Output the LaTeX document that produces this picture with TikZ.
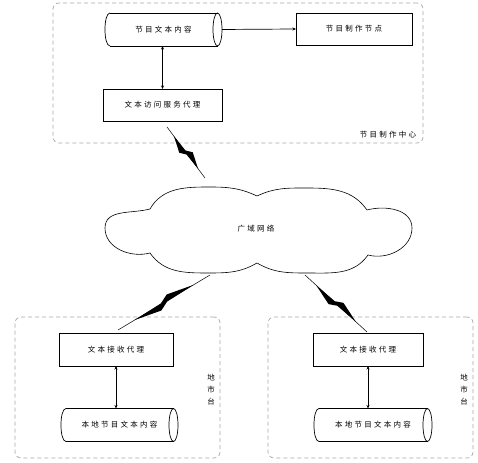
\documentclass[tikz,border=0pt]{standalone}
\usepackage{fontspec}
\newfontfamily\cjk{Noto Sans CJK SC}[LetterSpace=30]
\usetikzlibrary{calc,arrows.meta}
\newcommand{\cylout}[1]{%
  \draw[link] ($(#1.north west)+(5,0)$) -- ($(#1.north east)+(-4.5,0)$);
  \draw[link] ($(#1.south west)+(5,0)$) -- ($(#1.south east)+(-4.5,0)$);
  \draw[link] ($(#1.east)+(-4.5,0)$) ellipse [x radius=4.5pt, y radius=16.5pt];
  \draw[link] ($(#1.north west)+(5,0)$) .. controls ($(#1.north west)+(-1.7,0)$) and ($(#1.south west)+(-1.7,0)$) .. ($(#1.south west)+(5,0)$);}
\newcommand{\zap}[2]{%
  \draw[line width=0.5pt] (#1) -- (#2);
  \fill ($(#1)!0.18!(#2)$) -- ($ ($(#1)!0.47!(#2)$) !0.8pt!90:(#2) $) -- ($ ($(#1)!0.56!(#2)$) !5.5pt!90:(#2) $) -- ($(#1)!0.82!(#2)$)
    -- ($ ($(#1)!0.53!(#2)$) !0.8pt!-90:(#2) $) -- ($ ($(#1)!0.44!(#2)$) !5.5pt!-90:(#2) $) -- cycle;}
\begin{document}
\begin{tikzpicture}[x=1pt,y=1pt,
  txt/.style={font=\cjk\fontsize{7.5}{9}\selectfont, inner sep=0pt, outer sep=0pt},
  boxn/.style={txt, draw, line width=0.7pt, minimum width=#1, minimum height=32pt},
  cylnode/.style={txt, minimum width=#1, minimum height=33pt},
  grp/.style={draw=black!35, dash pattern=on 4pt off 3pt, rounded corners=6pt, line width=0.7pt, inner sep=0pt},
  link/.style={line width=0.7pt},
  dbl/.style={link, {Stealth[length=3.5pt,width=3pt]}-{Stealth[length=3.5pt,width=3pt]}},
  sgl/.style={link, -{Stealth[length=3.5pt,width=3pt]}},
  vlbl/.style={txt, align=center, font=\cjk\fontsize{7.5}{12}\selectfont}]
\useasboundingbox (0,0) rectangle (478,462);
% groups
\node[grp, minimum width=370pt, minimum height=140pt] (center) at (238,389) {};
\node[grp, minimum width=205pt, minimum height=141pt] (cityL) at (117.5,74.5) {};
\node[grp, minimum width=205pt, minimum height=141pt] (cityR) at (370.5,74.5) {};
% centre
\node[cylnode=117pt] (src) at (163.5,432.5) {节目文本内容};
\cylout{src}
\node[boxn=116pt] (make) at (354,433) {节目制作节点};
\node[boxn=119pt] (acc) at (162.5,357) {文本访问服务代理};
\node[txt] (centerlbl) at (388,327) {节目制作中心};
\draw[sgl] (src.east) -- (make.west);
\draw[dbl] (acc.north) -- (acc.north |- src.south);
% cloud
\draw[link, line width=0.6pt] (150,253) to[out=60,in=180] (210,275) to[out=0,in=155] (257,266)
  to[out=25,in=180] (307,274) to[out=0,in=125] (367,252) to[out=15,in=90] (412,234)
  to[out=-90,in=-15] (368,207) to[out=-125,in=0] (307,189) to[out=180,in=-30] (257,199)
  to[out=-150,in=0] (207,189) to[out=180,in=-55] (150,209) to[out=-165,in=-90] (105,234)
  to[out=90,in=-165] cycle;
\node[txt] (wan) at (256,233) {广域网络};
% cities
\node[boxn=114pt, minimum height=33pt] (recvL) at (116,112.5) {文本接收代理};
\node[cylnode=117pt] (locL) at (119.5,37) {本地节目文本内容};
\cylout{locL}
\draw[dbl] (recvL.south) -- (recvL.south |- locL.north);
\node[vlbl] (lblL) at (211,72) {地\\市\\台};
\node[boxn=110pt, minimum height=33pt] (recvR) at (368,112.5) {文本接收代理};
\node[cylnode=118pt] (locR) at (373,37) {本地节目文本内容};
\cylout{locR}
\draw[dbl] (recvR.south) -- (recvR.south |- locR.north);
\node[vlbl] (lblR) at (464,72) {地\\市\\台};
% links
\coordinate (b1a) at (167,335); \coordinate (b1b) at (205,284);
\coordinate (b2a) at (210,187); \coordinate (b2b) at (118,132);
\coordinate (b3a) at (305,187); \coordinate (b3b) at (367,130);
\zap{b1a}{b1b}
\zap{b2a}{b2b}
\zap{b3a}{b3b}
\end{tikzpicture}
\end{document}
